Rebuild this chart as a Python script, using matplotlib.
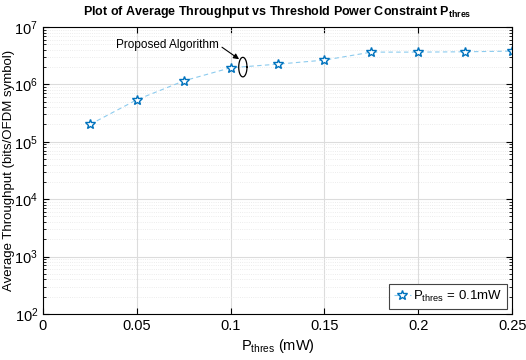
import matplotlib.pyplot as plt
from matplotlib.ticker import LogLocator, NullFormatter
import numpy as np

plt.rcParams['font.family'] = ['Liberation Sans', 'DejaVu Sans']
plt.rcParams['mathtext.fontset'] = 'custom'
plt.rcParams['mathtext.rm'] = 'Liberation Sans'
plt.rcParams['mathtext.it'] = 'Liberation Sans'
plt.rcParams['mathtext.bf'] = 'Liberation Sans:bold'

# Data
p_thres = [0.025, 0.05, 0.075, 0.1, 0.125, 0.15, 0.175, 0.2, 0.225, 0.25]
throughput = [2.0e5, 5.4e5, 1.15e6, 1.95e6, 2.25e6, 2.65e6, 3.65e6, 3.65e6, 3.7e6, 3.8e6]
x_ticks = [0, 0.05, 0.1, 0.15, 0.2, 0.25]
x_labels = ['0', '0.05', '0.1', '0.15', '0.2', '0.25']

fig = plt.figure(figsize=(5.26, 3.6), dpi=100)
ax = fig.add_axes([0.0817, 0.128, 0.892, 0.797])

ax.plot(p_thres, throughput, '--', color='#8ccbee', linewidth=0.8,
        dashes=(4, 3),
        marker='*', markersize=7.5, markerfacecolor='white',
        markeredgecolor='#0072BD', markeredgewidth=1.0,
        label='P$_{\\mathregular{thres}}$ = 0.1mW')

ax.set_yscale('log')
ax.set_xlim(0, 0.25)
ax.set_ylim(1e2, 1e7)
ax.set_xticks(x_ticks)
ax.set_xticklabels(x_labels)
ax.yaxis.set_major_locator(LogLocator(base=10, numticks=10))
ax.yaxis.set_minor_locator(LogLocator(base=10, subs=np.arange(2, 10), numticks=10))
ax.yaxis.set_minor_formatter(NullFormatter())

ax.tick_params(direction='in', which='both', top=True, right=True, labelsize=10.5)
ax.tick_params(which='major', length=4)
ax.tick_params(which='minor', length=2)
ax.grid(True, which='major', color='#dcdcdc', linewidth=0.8)
ax.grid(True, which='minor', axis='y', color='#e6e6e6', linestyle=':', linewidth=0.6)
ax.set_axisbelow(True)

ax.set_xlabel('P$_{\\mathregular{thres}}$ (mW)', fontsize=10.5, labelpad=3)
ax.set_ylabel('Average Throughput (bits/OFDM symbol)', fontsize=9.5)
ax.yaxis.set_label_coords(-0.06, 0.5)
ax.set_title('Plot of Average Throughput vs Threshold Power Constraint P$_{\\mathbf{thres}}$',
             fontsize=9, fontweight='bold', pad=9)

# ellipse marking the proposed point (drawn in log space)
theta = np.linspace(0, 2 * np.pi, 100)
ex = 0.1065 + 0.0022 * np.cos(theta)
ey = 2.0e6 * 10 ** (0.17 * np.sin(theta))
ax.plot(ex, ey, color='black', linewidth=0.9)

ax.annotate('Proposed Algorithm', xy=(0.1045, 2.75e6), xytext=(0.0665, 4.8e6),
            fontsize=8.5, ha='center', va='center',
            arrowprops=dict(arrowstyle='-|>', color='black', linewidth=0.8,
                            mutation_scale=8, shrinkA=0, shrinkB=0,
                            relpos=(1.0, 0.5)))

leg = ax.legend(loc='lower right', fontsize=9.5, fancybox=False, edgecolor='#444444',
                framealpha=1, handlelength=1.3, borderpad=0.35, handletextpad=0.2,
                borderaxespad=0.4)
leg.get_frame().set_linewidth(0.8)

fig.savefig('out.png', dpi=100)
